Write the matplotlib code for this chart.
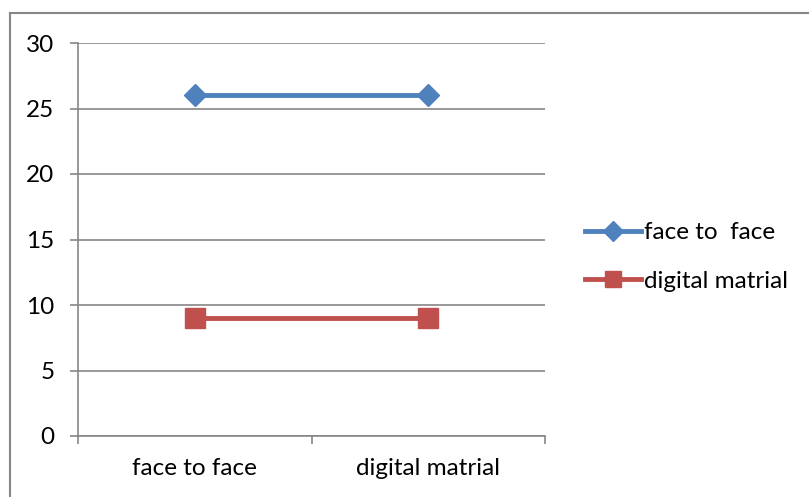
import matplotlib
matplotlib.use("Agg")
import matplotlib.pyplot as plt
from matplotlib.lines import Line2D

plt.rcParams['font.family'] = ['Lato', 'DejaVu Sans']

categories = ["face to face", "digital matrial"]
series_names = ["face to  face", "digital matrial"]
face_to_face = [26, 26]
digital_matrial = [9, 9]
y_ticks = [0, 5, 10, 15, 20, 25, 30]

W, H = 809, 497
fig = plt.figure(figsize=(W / 100, H / 100), dpi=100)

# plot area in pixel coordinates
left, right, top, bottom = 78, 545, 43, 436
ax = fig.add_axes([left / W, 1 - bottom / H, (right - left) / W, (bottom - top) / H])

grid_c = "#868686"
fs = 17.5
for s in ["top", "right"]:
    ax.spines[s].set_visible(False)
ax.spines["left"].set_color(grid_c)
ax.spines["bottom"].set_color(grid_c)
ax.spines["left"].set_linewidth(1.2)
ax.spines["bottom"].set_linewidth(1.2)

ax.set_xlim(-0.5, 1.5)
ax.set_ylim(0, 30)
ax.set_yticks(y_ticks)
ax.set_yticklabels([str(t) for t in y_ticks], fontsize=fs)
ax.yaxis.grid(True, color=grid_c, linewidth=1.2)
ax.set_axisbelow(True)
ax.tick_params(axis="y", length=6, width=1.2, color=grid_c, pad=11)

# category boundaries as ticks, labels centered in each category
ax.set_xticks([-0.5, 0.5, 1.5])
ax.set_xticklabels([])
ax.tick_params(axis="x", length=6, width=1.2, color=grid_c)
for i, c in enumerate(categories):
    ax.text(i, -0.055, c, transform=ax.get_xaxis_transform(), ha="center", va="top", fontsize=fs)

x = list(range(len(categories)))
blue, red = "#4F81BD", "#C0504D"
ax.plot(x, face_to_face, color=blue, linewidth=3.5, marker="D", markersize=11,
        markeredgecolor=blue, clip_on=False, zorder=3)
ax.plot(x, digital_matrial, color=red, linewidth=3.5, marker="s", markersize=14,
        markeredgecolor=red, clip_on=False, zorder=3)

handles = [
    Line2D([], [], color=blue, linewidth=3.5, marker="D", markersize=10),
    Line2D([], [], color=red, linewidth=3.5, marker="s", markersize=12),
]
fig.legend(handles, series_names, loc="center left", bbox_to_anchor=(585 / W, 1 - 257 / H),
           frameon=False, fontsize=fs, handlelength=2.3, handletextpad=0.12,
           labelspacing=1.15, borderpad=0, borderaxespad=0)

# outer chart border (top and left edges visible)
fig.add_artist(Line2D([10 / W, 10 / W], [0, 1 - 13 / H], transform=fig.transFigure,
                      color=grid_c, linewidth=1.5))
fig.add_artist(Line2D([10 / W, 808 / W], [1 - 13 / H, 1 - 13 / H], transform=fig.transFigure,
                      color=grid_c, linewidth=1.5))

fig.savefig("out.png", dpi=100)
